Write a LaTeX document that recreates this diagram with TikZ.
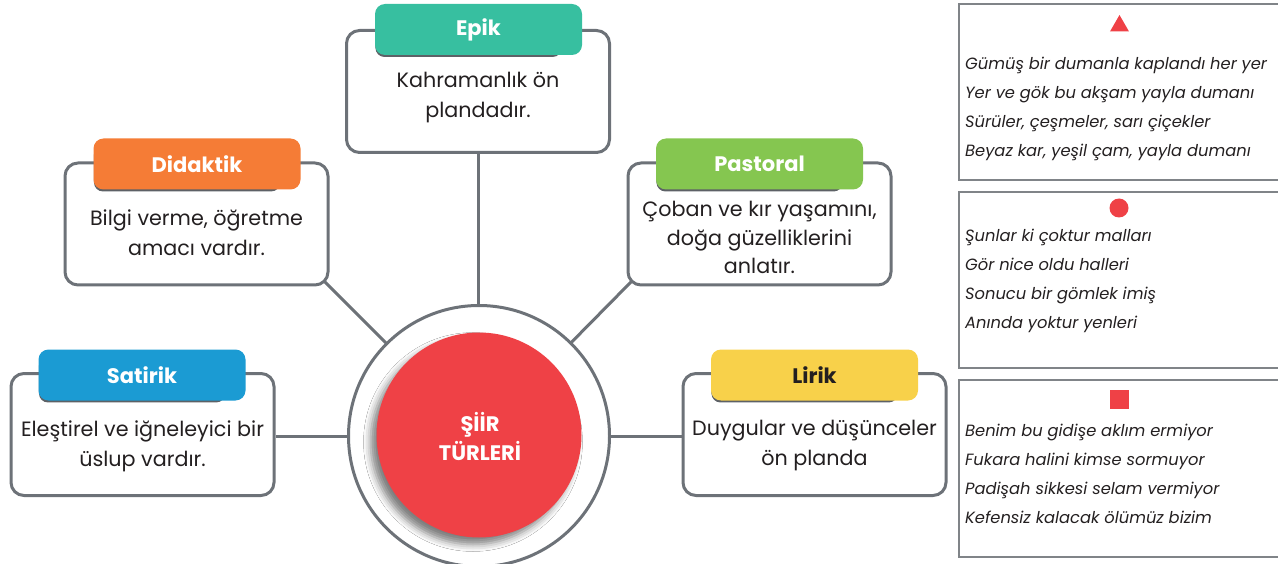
\documentclass[tikz,border=0pt]{standalone}
\usepackage{fontspec}
\setmainfont{Poppins}
\usetikzlibrary{calc,shadows,shadows.blur,shapes.geometric,backgrounds}
\definecolor{linec}{HTML}{6D7278}
\definecolor{redc}{HTML}{EF4146}
\definecolor{epikc}{HTML}{37BFA0}
\definecolor{didc}{HTML}{F57C36}
\definecolor{pasc}{HTML}{85C650}
\definecolor{satc}{HTML}{1B9BD3}
\definecolor{lirc}{HTML}{F8D14A}
\definecolor{textc}{HTML}{231F20}
\definecolor{pboxc}{HTML}{808488}
\begin{document}
\begin{tikzpicture}[x=1pt,y=-1pt,
  conn/.style={draw=linec, line width=3pt},
  box/.style={draw=linec, line width=3pt, rounded corners=13pt, fill=white, minimum width=263pt, minimum height=122pt, inner sep=0pt},
  hdr/.style={rounded corners=10pt, minimum width=207pt, minimum height=51pt, inner sep=0pt, text=white, font=\bfseries\fontsize{21}{25}\selectfont,
    drop shadow={shadow xshift=-11pt, shadow yshift=-5pt, shadow scale=0.9, fill=linec!85!black, opacity=1}},
  body/.style={align=center, inner sep=0pt, text=textc, font=\fontsize{20.7}{30}\selectfont},
  ring/.style={circle, draw=linec, line width=3pt, fill=white, minimum size=261pt, inner sep=0pt},
  core/.style={circle, fill=redc, minimum size=205pt, inner sep=0pt,
    blur shadow={shadow xshift=-6pt, shadow yshift=-7pt, shadow blur radius=7pt, shadow opacity=50}},
  ctitle/.style={align=center, inner sep=0pt, text=white, font=\bfseries\fontsize{21}{29}\selectfont},
  pbox/.style={draw=pboxc, line width=1.5pt, minimum width=340pt, inner sep=0pt},
  poem/.style={anchor=west, align=left, inner sep=0pt, text=textc, font=\itshape\fontsize{16.3}{29}\selectfont},
  sym/.style={fill=redc, inner sep=0pt}
]
\useasboundingbox (0,0) rectangle (1278,564);

% centre
\node[ring] (outer) at (479,436) {};
\node[core] (core) at (479,435) {};
\node[ctitle] (title) at (480,436.5) {ŞİİR\\TÜRLERİ};

% Epik
\node[box] (epikbox) at (478,91.5) {};
\node[hdr, fill=epikc] (epikh) at (478.5,29.5) {Epik};
\node[body] (epikt) at (478,98) {Kahramanlık ön\\plandadır.};

% Didaktik
\node[box] (didbox) at (196.5,224) {};
\node[hdr, fill=didc] (didh) at (197,164) {Didaktik};
\node[body] (didt) at (196.5,232.5) {Bilgi verme, öğretme\\amacı vardır.};

% Pastoral
\node[box] (pasbox) at (759.5,224) {};
\node[hdr, fill=pasc] (pash) at (759.5,164) {Pastoral};
\node[body, font=\fontsize{20.7}{28.5}\selectfont] (past) at (759.5,237.5) {Çoban ve kır yaşamını,\\doğa güzelliklerini\\anlatır.};

% Satirik
\node[box] (satbox) at (142.5,434.5) {};
\node[hdr, fill=satc] (sath) at (142,375) {Satirik};
\node[body] (satt) at (142.5,446) {Eleştirel ve iğneleyici bir\\üslup vardır.};

% Lirik
\node[box] (lirbox) at (814.5,434.5) {};
\node[hdr, fill=lirc, text=textc] (lirh) at (814.5,375) {Lirik};
\node[body] (lirt) at (814.5,446) {Duygular ve düşünceler\\ön planda};

% connectors
\begin{scope}[on background layer]
\draw[conn] (epikbox.south) -- (epikbox.south |- outer.north);
\draw[conn] (outer.center) -- ($(outer.center)!1.04!(didbox.south east)$);
\draw[conn] (outer.center) -- ($(outer.center)!1.04!(pasbox.south west)$);
\draw[conn] (outer.west) -- (satbox.east |- outer.west);
\draw[conn] (outer.east) -- (lirbox.west |- outer.east);
\end{scope}

% right panel
\node[pbox, minimum height=176pt] (pb1) at (1129,92) {};
\node[pbox, minimum height=176pt] (pb2) at (1129,280) {};
\node[pbox, minimum height=177pt] (pb3) at (1129,468.5) {};

\node[sym, regular polygon, regular polygon sides=3, minimum size=22pt] (s1) at (1119.5,26) {};
\node[sym, circle, minimum size=19pt] (s2) at (1119,208) {};
\node[sym, rectangle, minimum size=19pt] (s3) at (1119.5,399.5) {};

\node[poem] (p1) at (965,108.5) {Gümüş bir dumanla kaplandı her yer\\Yer ve gök bu akşam yayla dumanı\\Sürüler, çeşmeler, sarı çiçekler\\Beyaz kar, yeşil çam, yayla dumanı};
\node[poem] (p2) at (965,280.5) {Şunlar ki çoktur malları\\Gör nice oldu halleri\\Sonucu bir gömlek imiş\\Anında yoktur yenleri};
\node[poem] (p3) at (965,473.5) {Benim bu gidişe aklım ermiyor\\Fukara halini kimse sormuyor\\Padişah sikkesi selam vermiyor\\Kefensiz kalacak ölümüz bizim};
\end{tikzpicture}
\end{document}
